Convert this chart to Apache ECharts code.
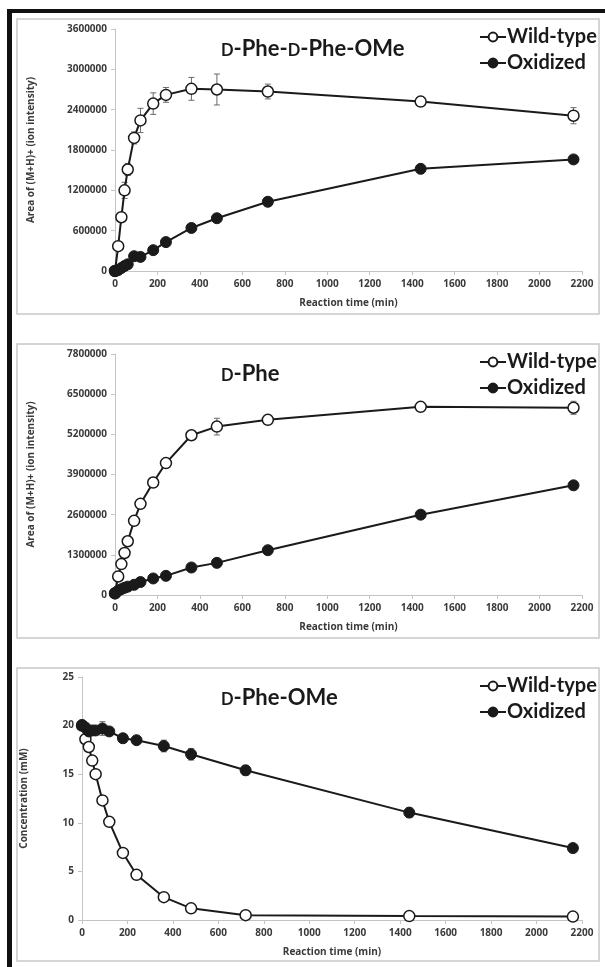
<!DOCTYPE html>
<html>
<head>
<meta charset="utf-8">
<script src="https://cdn.jsdelivr.net/npm/echarts@6/dist/echarts.min.js"></script>
<style>
  html, body { margin: 0; padding: 0; background: #fff; }
  #chart { width: 605px; height: 967px; }
</style>
</head>
<body>
<div id="chart"></div>
<script>
// sampling times (min), shared by all three panels
const times = [0, 15, 30, 45, 60, 90, 120, 180, 240, 360, 480, 720, 1440, 2160];
const xTicks = { min: 0, max: 2200, interval: 200 };

// panel 1: D-Phe-D-Phe-OMe, area of (M+H)+
const dipepWild = [0, 370000, 800000, 1200000, 1510000, 1980000, 2240000, 2490000, 2620000, 2710000, 2700000, 2670000, 2520000, 2310000];
const dipepWildErr = [0, 30000, 60000, 120000, 90000, 90000, 180000, 160000, 110000, 170000, 230000, 110000, 70000, 120000];
const dipepOx = [0, 15000, 45000, 75000, 100000, 220000, 210000, 310000, 430000, 640000, 785000, 1030000, 1520000, 1660000];
const dipepOxErr = [0, 5000, 10000, 10000, 15000, 20000, 20000, 20000, 20000, 25000, 20000, 20000, 25000, 25000];

// panel 2: D-Phe
const pheWild = [50000, 600000, 1000000, 1360000, 1740000, 2400000, 2950000, 3640000, 4270000, 5170000, 5450000, 5670000, 6090000, 6060000];
const pheWildErr = [10000, 50000, 60000, 60000, 70000, 80000, 80000, 150000, 100000, 130000, 270000, 150000, 150000, 210000];
const pheOx = [60000, 140000, 190000, 235000, 270000, 330000, 420000, 535000, 620000, 890000, 1040000, 1450000, 2600000, 3550000];
const pheOxErr = [10000, 15000, 15000, 15000, 20000, 20000, 20000, 25000, 25000, 30000, 30000, 30000, 40000, 40000];

// panel 3: D-Phe-OMe, concentration (mM)
const omeWild = [20.0, 18.6, 17.8, 16.4, 15.0, 12.3, 10.1, 6.9, 4.65, 2.35, 1.2, 0.5, 0.4, 0.35];
const omeWildErr = [0.3, 0.2, 0.2, 0.2, 0.2, 0.2, 0.2, 0.2, 0.2, 0.2, 0.15, 0.1, 0.1, 0.1];
const omeOx = [20.05, 19.8, 19.4, 19.5, 19.5, 19.7, 19.4, 18.7, 18.5, 17.9, 17.05, 15.4, 11.05, 7.4];
const omeOxErr = [0.5, 0.3, 0.3, 0.3, 0.3, 0.7, 0.3, 0.3, 0.3, 0.6, 0.6, 0.5, 0.5, 0.3];

const yTicks = [
  { min: 0, max: 3600000, interval: 600000 },
  { min: 0, max: 7800000, interval: 1300000 },
  { min: 0, max: 25, interval: 5 }
];
const yNames = ['Area of (M+H)+ (ion intensity)', 'Area of (M+H)+ (ion intensity)', 'Concentration (mM)'];
const seriesNames = ['Wild-type', 'Oxidized'];

const FONT = 'Lato';
const SMALL_FONT = 'Open Sans';
const INK = '#1a1a1a';
const AXIS = '#c4c4c4';
const LABEL = '#3a3a3a';

const panels = [
  { wild: dipepWild, wildErr: dipepWildErr, ox: dipepOx, oxErr: dipepOxErr,
    title: '{s|D}{b|-Phe-}{s|D}{b|-Phe-OMe}',
    grid: { left: 115, top: 29, width: 467, height: 242 }, frameTop: 19, frameH: 295, nameGap: 79 },
  { wild: pheWild, wildErr: pheWildErr, ox: pheOx, oxErr: pheOxErr,
    title: '{s|D}{b|-Phe}',
    grid: { left: 115, top: 354, width: 467, height: 241 }, frameTop: 344, frameH: 294, nameGap: 79 },
  { wild: omeWild, wildErr: omeWildErr, ox: omeOx, oxErr: omeOxErr,
    title: '{s|D}{b|-Phe-OMe}',
    grid: { left: 82, top: 677, width: 500, height: 243 }, frameTop: 668, frameH: 293, nameGap: 53 }
];

function pairs(ys) {
  return times.map((t, i) => [t, ys[i]]);
}
function triples(ys, es) {
  return times.map((t, i) => [t, ys[i], es[i]]);
}

function errRender(params, api) {
  const x = api.value(0), y = api.value(1), e = api.value(2);
  const lo = api.coord([x, y - e]);
  const hi = api.coord([x, y + e]);
  const w = 3;
  const st = { stroke: '#6a6a6a', lineWidth: 1 };
  return {
    type: 'group',
    children: [
      { type: 'line', shape: { x1: lo[0], y1: lo[1], x2: hi[0], y2: hi[1] }, style: st },
      { type: 'line', shape: { x1: lo[0] - w, y1: lo[1], x2: lo[0] + w, y2: lo[1] }, style: st },
      { type: 'line', shape: { x1: hi[0] - w, y1: hi[1], x2: hi[0] + w, y2: hi[1] }, style: st }
    ]
  };
}

const grids = [], xAxes = [], yAxes = [], series = [], titles = [], legends = [];
const graphics = [
  { type: 'rect', shape: { x: 7, y: 9, width: 5, height: 958 }, style: { fill: '#111' }, silent: true },
  { type: 'rect', shape: { x: 7, y: 9, width: 598, height: 4 }, style: { fill: '#111' }, silent: true }
];

const smallText = { fontFamily: SMALL_FONT, fontWeight: 'bold', fontSize: 10, color: LABEL };

panels.forEach((p, i) => {
  graphics.push({
    type: 'rect', silent: true,
    shape: { x: 17, y: p.frameTop, width: 582, height: p.frameH },
    style: { fill: 'none', stroke: '#c8c8c8', lineWidth: 1.5 }
  });
  grids.push(p.grid);
  xAxes.push({
    gridIndex: i, type: 'value', min: xTicks.min, max: xTicks.max, interval: xTicks.interval,
    name: 'Reaction time (min)', nameLocation: 'middle', nameGap: 27,
    nameTextStyle: smallText,
    axisLine: { lineStyle: { color: AXIS, width: 1 } },
    axisTick: { length: 4, lineStyle: { color: AXIS } },
    axisLabel: Object.assign({ margin: 8, formatter: v => String(v) }, smallText),
    splitLine: { show: false }
  });
  yAxes.push({
    gridIndex: i, type: 'value', min: yTicks[i].min, max: yTicks[i].max, interval: yTicks[i].interval,
    name: yNames[i], nameLocation: 'middle', nameGap: p.nameGap,
    nameTextStyle: smallText,
    axisLine: { show: true, lineStyle: { color: AXIS, width: 1 } },
    axisTick: { show: true, length: 4, lineStyle: { color: AXIS } },
    axisLabel: Object.assign({ margin: 8, formatter: v => String(v) }, smallText),
    splitLine: { show: false }
  });
  titles.push({
    text: p.title, left: 216, top: p.frameTop + 8,
    textStyle: {
      rich: {
        b: { fontFamily: FONT, fontWeight: 'bold', fontSize: 22, color: INK, lineHeight: 28, verticalAlign: 'bottom' },
        s: { fontFamily: FONT, fontWeight: 'bold', fontSize: 16.5, color: INK, lineHeight: 28, verticalAlign: 'bottom', padding: [0, 0, 1, 0] }
      }
    }
  });
  legends.push({
    data: seriesNames, orient: 'vertical', left: 474, top: p.frameTop + 3,
    itemWidth: 26, itemHeight: 11, itemGap: 6, selectedMode: false,
    textStyle: { fontFamily: FONT, fontWeight: 'bold', fontSize: 20, color: INK, padding: [0, 0, 0, -4] }
  });
  series.push(
    { type: 'custom', xAxisIndex: i, yAxisIndex: i, renderItem: errRender, data: triples(p.wild, p.wildErr), z: 1, silent: true },
    { type: 'custom', xAxisIndex: i, yAxisIndex: i, renderItem: errRender, data: triples(p.ox, p.oxErr), z: 1, silent: true },
    {
      name: 'Wild-type', type: 'line', xAxisIndex: i, yAxisIndex: i, data: pairs(p.wild), z: 3,
      symbol: 'circle', symbolSize: 11, showAllSymbol: true,
      lineStyle: { color: INK, width: 2 },
      itemStyle: { color: '#fff', borderColor: INK, borderWidth: 1.5 }
    },
    {
      name: 'Oxidized', type: 'line', xAxisIndex: i, yAxisIndex: i, data: pairs(p.ox), z: 4,
      symbol: 'circle', symbolSize: 11, showAllSymbol: true,
      lineStyle: { color: INK, width: 2 },
      itemStyle: { color: INK, borderColor: INK, borderWidth: 1 }
    }
  );
});

const chart = echarts.init(document.getElementById('chart'));
chart.setOption({
  backgroundColor: '#fff',
  animation: false,
  title: titles,
  legend: legends,
  grid: grids,
  xAxis: xAxes,
  yAxis: yAxes,
  series: series,
  graphic: graphics
});
</script>
</body>
</html>
